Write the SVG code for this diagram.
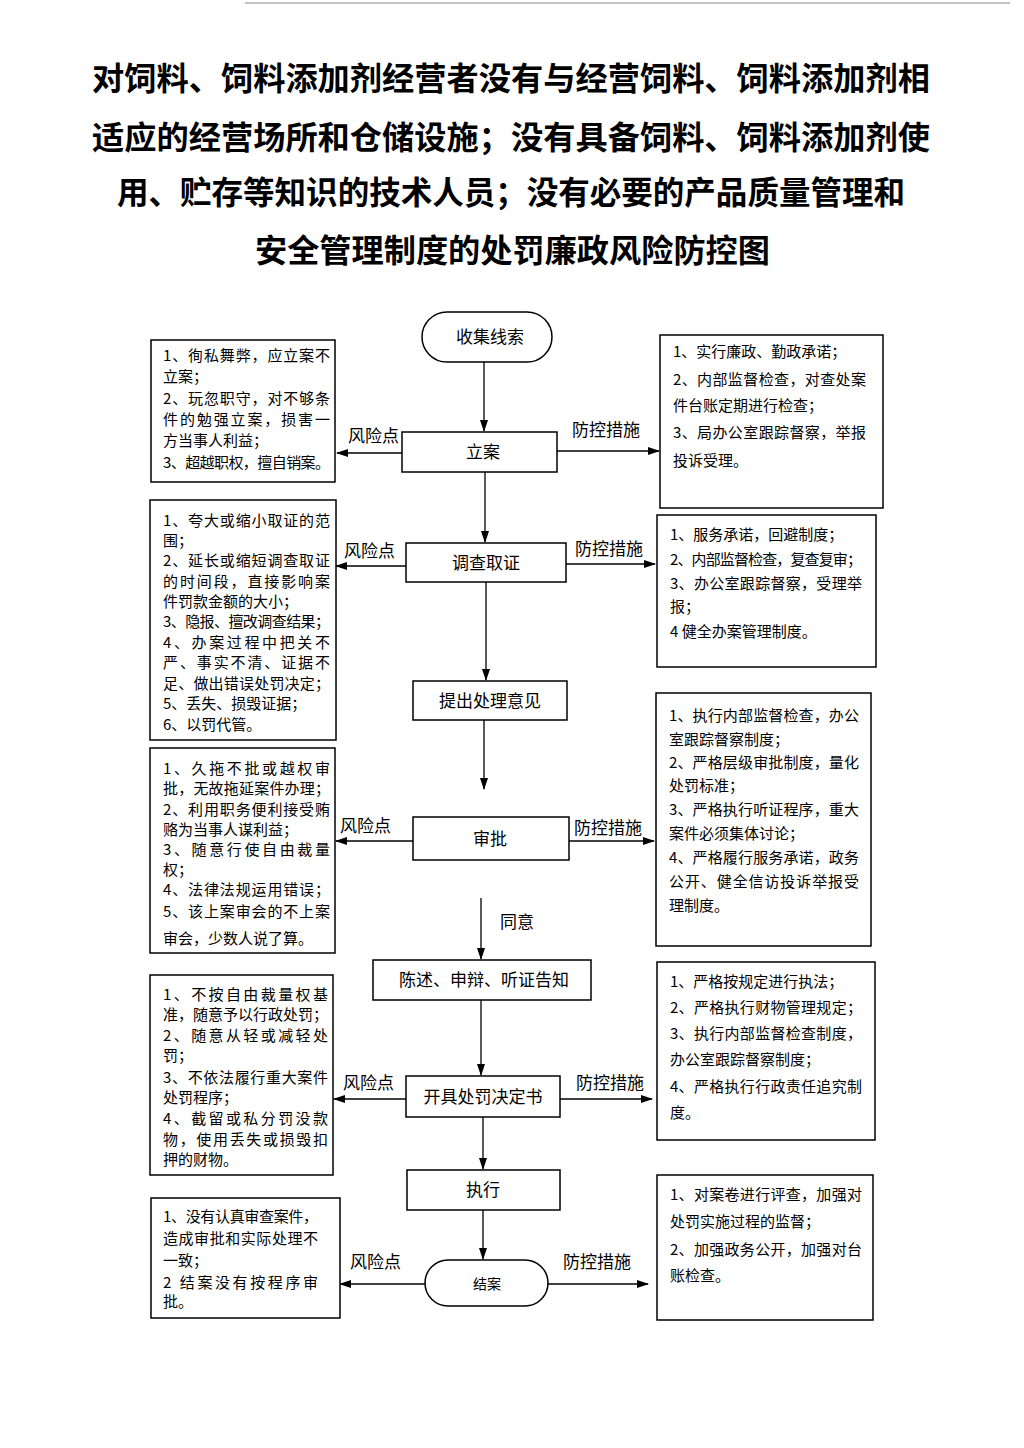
<svg xmlns="http://www.w3.org/2000/svg" width="1024" height="1448" viewBox="0 0 1024 1448">
<style>
.title{font-family:"Noto Sans CJK SC","Noto Sans CJK TC",sans-serif;font-size:32px;font-weight:700;fill:#000}
.box{fill:#fff;stroke:#000;stroke-width:1.5}
.lbl{font-family:"Noto Sans CJK SC",sans-serif;font-size:17px;fill:#000;text-anchor:middle}
.side{font-family:"Noto Sans CJK SC",sans-serif;font-size:17px;fill:#000}
.t{font-family:"Noto Sans CJK SC",sans-serif;font-size:15px;fill:#000}
.c{stroke:#000;stroke-width:1.3;fill:none;marker-end:url(#ah)}
</style>
<defs>
<marker id="ah" markerWidth="12" markerHeight="8" refX="11" refY="4" orient="auto" markerUnits="userSpaceOnUse">
<path d="M0,0 L12,4 L0,8 Z" fill="#000"/>
</marker>
</defs>
<rect width="1024" height="1448" fill="#fff"/>
<line x1="245" y1="3" x2="1010" y2="3" stroke="#888" stroke-width="1"/>

<g id="title">
<text class="title" x="92" y="90" textLength="838" lengthAdjust="spacingAndGlyphs">对饲料、饲料添加剂经营者没有与经营饲料、饲料添加剂相</text>
<text class="title" x="92" y="149" textLength="838" lengthAdjust="spacingAndGlyphs">适应的经营场所和仓储设施；没有具备饲料、饲料添加剂使</text>
<text class="title" x="117" y="204" textLength="788" lengthAdjust="spacingAndGlyphs">用、贮存等知识的技术人员；没有必要的产品质量管理和</text>
<text class="title" x="255" y="262" textLength="515" lengthAdjust="spacingAndGlyphs">安全管理制度的处罚廉政风险防控图</text>
</g>

<g id="connectors">
<line class="c" x1="484" y1="362" x2="484" y2="431"/>
<line class="c" x1="402" y1="453" x2="337" y2="453"/>
<line class="c" x1="557" y1="451" x2="659" y2="451"/>
<line class="c" x1="485" y1="472" x2="485" y2="542"/>
<line class="c" x1="406" y1="566" x2="336" y2="566"/>
<line class="c" x1="566" y1="564" x2="655" y2="564"/>
<line class="c" x1="486" y1="582" x2="486" y2="680"/>
<line class="c" x1="484" y1="720" x2="484" y2="789"/>
<line class="c" x1="413" y1="841" x2="336" y2="841"/>
<line class="c" x1="569" y1="841" x2="654" y2="841"/>
<line class="c" x1="481" y1="898" x2="481" y2="959"/>
<line class="c" x1="481" y1="1000" x2="481" y2="1075"/>
<line class="c" x1="406" y1="1099" x2="334" y2="1099"/>
<line class="c" x1="560" y1="1099" x2="652" y2="1099"/>
<line class="c" x1="483" y1="1117" x2="483" y2="1169"/>
<line class="c" x1="483" y1="1210" x2="483" y2="1259"/>
<line class="c" x1="425" y1="1284" x2="340" y2="1284"/>
<line class="c" x1="548" y1="1284" x2="648" y2="1284"/>
<text class="side" x="348" y="442">风险点</text>
<text class="side" x="572" y="436">防控措施</text>
<text class="side" x="344" y="557">风险点</text>
<text class="side" x="575" y="555">防控措施</text>
<text class="side" x="340" y="832">风险点</text>
<text class="side" x="574" y="834">防控措施</text>
<text class="side" x="500" y="928">同意</text>
<text class="side" x="343" y="1089">风险点</text>
<text class="side" x="576" y="1089">防控措施</text>
<text class="side" x="350" y="1268">风险点</text>
<text class="side" x="563" y="1268">防控措施</text>
</g>

<g id="n-collect">
<rect class="box" x="422" y="312" width="130" height="50" rx="25"/>
<text class="lbl" x="490" y="343">收集线索</text>
</g>
<g id="n-lian">
<rect class="box" x="402" y="432" width="155" height="40"/>
<text class="lbl" x="483" y="458">立案</text>
</g>
<g id="n-diaocha">
<rect class="box" x="406" y="543" width="160" height="39"/>
<text class="lbl" x="486" y="569">调查取证</text>
</g>
<g id="n-tichu">
<rect class="box" x="413" y="681" width="154" height="39"/>
<text class="lbl" x="490" y="707">提出处理意见</text>
</g>
<g id="n-shenpi">
<rect class="box" x="413" y="817" width="156" height="43"/>
<text class="lbl" x="490" y="845">审批</text>
</g>
<g id="n-chenshu">
<rect class="box" x="373" y="960" width="218" height="40"/>
<text class="lbl" x="484" y="986">陈述、申辩、听证告知</text>
</g>
<g id="n-kaiju">
<rect class="box" x="406" y="1076" width="154" height="41"/>
<text class="lbl" x="483" y="1103">开具处罚决定书</text>
</g>
<g id="n-zhixing">
<rect class="box" x="407" y="1170" width="153" height="40"/>
<text class="lbl" x="483" y="1196">执行</text>
</g>
<g id="n-jiean">
<rect class="box" x="425" y="1260" width="123" height="46" rx="23"/>
<text class="lbl" x="487" y="1289" style="font-size:14px">结案</text>
</g>

<g id="risk1">
<rect class="box" x="151" y="340" width="184" height="142"/>
<text class="t" x="163" y="361" textLength="167" lengthAdjust="spacing">1、徇私舞弊，应立案不</text>
<text class="t" x="163" y="382">立案；</text>
<text class="t" x="163" y="404" textLength="167" lengthAdjust="spacing">2、玩忽职守，对不够条</text>
<text class="t" x="163" y="425" textLength="167" lengthAdjust="spacing">件的勉强立案，损害一</text>
<text class="t" x="163" y="446">方当事人利益；</text>
<text class="t" x="163" y="468" textLength="167" lengthAdjust="spacing">3、超越职权，擅自销案。</text>
</g>
<g id="ctrl1">
<rect class="box" x="660" y="335" width="223" height="173"/>
<text class="t" x="673" y="357">1、实行廉政、勤政承诺；</text>
<text class="t" x="673" y="385" textLength="193" lengthAdjust="spacing">2、内部监督检查，对查处案</text>
<text class="t" x="673" y="411">件台账定期进行检查；</text>
<text class="t" x="673" y="438" textLength="193" lengthAdjust="spacing">3、局办公室跟踪督察，举报</text>
<text class="t" x="673" y="466">投诉受理。</text>
</g>

<g id="risk2">
<rect class="box" x="150" y="500" width="186" height="240"/>
<text class="t" x="163" y="526" textLength="167" lengthAdjust="spacing">1、夸大或缩小取证的范</text>
<text class="t" x="163" y="546">围；</text>
<text class="t" x="163" y="566" textLength="167" lengthAdjust="spacing">2、延长或缩短调查取证</text>
<text class="t" x="163" y="587" textLength="167" lengthAdjust="spacing">的时间段，直接影响案</text>
<text class="t" x="163" y="607">件罚款金额的大小；</text>
<text class="t" x="163" y="627" textLength="167" lengthAdjust="spacing">3、隐报、擅改调查结果；</text>
<text class="t" x="163" y="648" textLength="167" lengthAdjust="spacing">4、办案过程中把关不</text>
<text class="t" x="163" y="668" textLength="167" lengthAdjust="spacing">严、事实不清、证据不</text>
<text class="t" x="163" y="689" textLength="167" lengthAdjust="spacing">足、做出错误处罚决定；</text>
<text class="t" x="163" y="709">5、丢失、损毁证据；</text>
<text class="t" x="163" y="730">6、以罚代管。</text>
</g>
<g id="ctrl2">
<rect class="box" x="657" y="515" width="219" height="152"/>
<text class="t" x="670" y="540">1、服务承诺，回避制度；</text>
<text class="t" x="670" y="565" textLength="192" lengthAdjust="spacing">2、内部监督检查，复查复审；</text>
<text class="t" x="670" y="589" textLength="192" lengthAdjust="spacing">3、办公室跟踪督察，受理举</text>
<text class="t" x="670" y="612">报；</text>
<text class="t" x="670" y="637">4 健全办案管理制度。</text>
</g>

<g id="risk3">
<rect class="box" x="150" y="748" width="185" height="205"/>
<text class="t" x="163" y="774" textLength="167" lengthAdjust="spacing">1、久拖不批或越权审</text>
<text class="t" x="163" y="794" textLength="167" lengthAdjust="spacing">批，无故拖延案件办理；</text>
<text class="t" x="163" y="815" textLength="167" lengthAdjust="spacing">2、利用职务便利接受贿</text>
<text class="t" x="163" y="835">赂为当事人谋利益；</text>
<text class="t" x="163" y="855" textLength="167" lengthAdjust="spacing">3、随意行使自由裁量</text>
<text class="t" x="163" y="875">权；</text>
<text class="t" x="163" y="895" textLength="167" lengthAdjust="spacing">4、法律法规运用错误；</text>
<text class="t" x="163" y="917" textLength="167" lengthAdjust="spacing">5、该上案审会的不上案</text>
<text class="t" x="163" y="944">审会，少数人说了算。</text>
</g>
<g id="ctrl3">
<rect class="box" x="656" y="693" width="215" height="253"/>
<text class="t" x="669" y="721" textLength="190" lengthAdjust="spacing">1、执行内部监督检查，办公</text>
<text class="t" x="669" y="745">室跟踪督察制度；</text>
<text class="t" x="669" y="768" textLength="190" lengthAdjust="spacing">2、严格层级审批制度，量化</text>
<text class="t" x="669" y="791">处罚标准；</text>
<text class="t" x="669" y="815" textLength="190" lengthAdjust="spacing">3、严格执行听证程序，重大</text>
<text class="t" x="669" y="839">案件必须集体讨论；</text>
<text class="t" x="669" y="863" textLength="190" lengthAdjust="spacing">4、严格履行服务承诺，政务</text>
<text class="t" x="669" y="887" textLength="190" lengthAdjust="spacing">公开、健全信访投诉举报受</text>
<text class="t" x="669" y="911">理制度。</text>
</g>

<g id="risk4">
<rect class="box" x="150" y="975" width="183" height="200"/>
<text class="t" x="163" y="1000" textLength="165" lengthAdjust="spacing">1、不按自由裁量权基</text>
<text class="t" x="163" y="1020" textLength="165" lengthAdjust="spacing">准，随意予以行政处罚；</text>
<text class="t" x="163" y="1041" textLength="165" lengthAdjust="spacing">2、随意从轻或减轻处</text>
<text class="t" x="163" y="1061">罚；</text>
<text class="t" x="163" y="1083" textLength="165" lengthAdjust="spacing">3、不依法履行重大案件</text>
<text class="t" x="163" y="1103">处罚程序；</text>
<text class="t" x="163" y="1124" textLength="165" lengthAdjust="spacing">4、截留或私分罚没款</text>
<text class="t" x="163" y="1145" textLength="165" lengthAdjust="spacing">物，使用丢失或损毁扣</text>
<text class="t" x="163" y="1165">押的财物。</text>
</g>
<g id="ctrl4">
<rect class="box" x="657" y="962" width="218" height="178"/>
<text class="t" x="670" y="987">1、严格按规定进行执法；</text>
<text class="t" x="670" y="1013" textLength="192" lengthAdjust="spacing">2、严格执行财物管理规定；</text>
<text class="t" x="670" y="1039" textLength="192" lengthAdjust="spacing">3、执行内部监督检查制度，</text>
<text class="t" x="670" y="1065">办公室跟踪督察制度；</text>
<text class="t" x="670" y="1092" textLength="192" lengthAdjust="spacing">4、严格执行行政责任追究制</text>
<text class="t" x="670" y="1118">度。</text>
</g>

<g id="risk5">
<rect class="box" x="151" y="1198" width="189" height="120"/>
<text class="t" x="163" y="1222" textLength="155" lengthAdjust="spacing">1、没有认真审查案件，</text>
<text class="t" x="163" y="1244" textLength="155" lengthAdjust="spacing">造成审批和实际处理不</text>
<text class="t" x="163" y="1266">一致；</text>
<text class="t" x="163" y="1288" textLength="155" lengthAdjust="spacing">2 结案没有按程序审</text>
<text class="t" x="163" y="1307">批。</text>
</g>
<g id="ctrl5">
<rect class="box" x="657" y="1175" width="216" height="145"/>
<text class="t" x="670" y="1200" textLength="192" lengthAdjust="spacing">1、对案卷进行评查，加强对</text>
<text class="t" x="670" y="1227">处罚实施过程的监督；</text>
<text class="t" x="670" y="1255" textLength="192" lengthAdjust="spacing">2、加强政务公开，加强对台</text>
<text class="t" x="670" y="1281">账检查。</text>
</g>
</svg>
